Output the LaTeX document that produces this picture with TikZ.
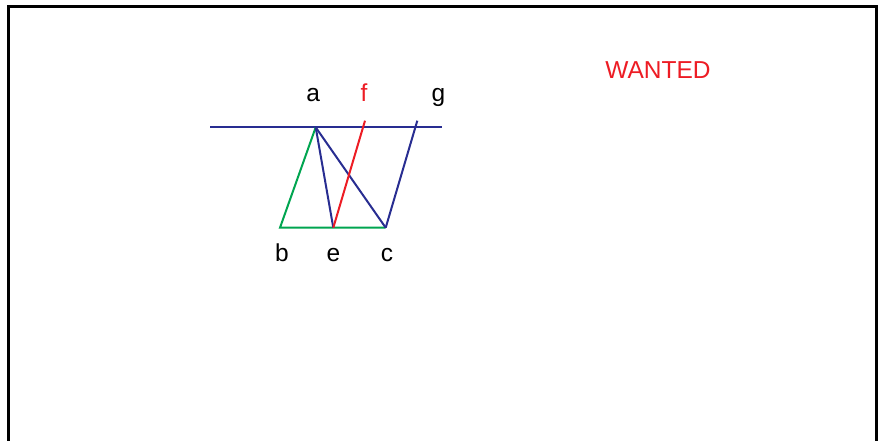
\documentclass[tikz,border=0pt]{standalone}
\usepackage{fontspec}
\setmainfont{Liberation Sans}
\usetikzlibrary{positioning, calc}
\definecolor{linenavy}{RGB}{40,45,145}
\definecolor{linegreen}{RGB}{0,165,80}
\definecolor{linered}{RGB}{237,28,36}
\tikzset{
  lbl/.style = {anchor=base, inner sep=0pt, font=\fontsize{24.5}{28}\selectfont},
  seg/.style = {line width=2pt}
}
\begin{document}
\begin{tikzpicture}[x = 1pt, y = -1pt]

    % Cornice
    \useasboundingbox (0,0) rectangle (878,440);
    \clip (0,0) rectangle (878,440);
    \draw[line width=3pt] (8.3,450) -- (8.3,6.5) -- (876.5,6.5) -- (876.5,450);

    % Punti
    \coordinate (l) at (210,126.7);
    \coordinate (r) at (441.7,126.7);
    \coordinate (a) at (315.7,127.3);
    \coordinate (b) at (280,227.7);
    \coordinate (e) at (333.3,227.7);
    \coordinate (c) at (385.7,227.7);
    \coordinate (f) at (365,120.7);
    \coordinate (g) at (417.3,120.7);

    % Retta per a
    \draw[seg, linenavy] (l) -- (r);

    % Triangolo abc
    \draw[seg, linegreen] (c) -- (b) -- (a);
    \draw[seg, linenavy] (a) -- (c);
    \draw[seg, linenavy] (a) -- (e);

    % Parallele
    \draw[seg, linenavy] (c) -- (g);
    \draw[seg, linered] (e) -- (f);

    % Etichette
    \node[lbl] (la) at (313.3,101.7) {a};
    \node[lbl, text=linered] (lf) at (364,101.7) {f};
    \node[lbl] (lg) at (438.5,101.7) {g};
    \node[lbl] (lb) at (282,261.7) {b};
    \node[lbl] (le) at (333.5,261.7) {e};
    \node[lbl] (lc) at (387,261.7) {c};
    \node[lbl, text=linered] (wanted) at (658,78.3) {WANTED};

\end{tikzpicture}
\end{document}
